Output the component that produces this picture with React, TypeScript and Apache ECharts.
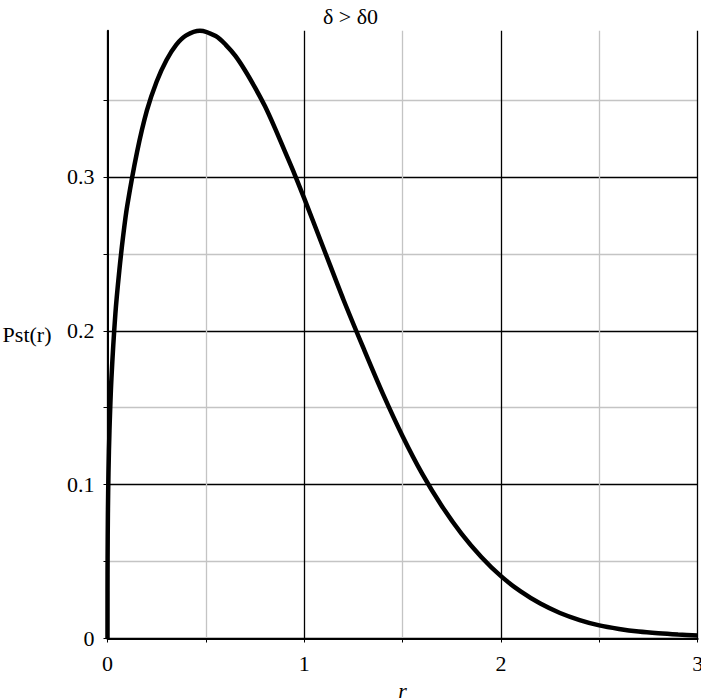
import React, { useEffect, useRef } from "react";
import * as echarts from "echarts";

const titleText = "δ > δ0";
const xName = "r";
const yName = "Pst(r)";

const rValues = [
  0, 0.0001, 0.0005, 0.002, 0.005, 0.01, 0.02, 0.04, 0.06, 0.08, 0.1, 0.15,
  0.2, 0.25, 0.3, 0.35, 0.4, 0.47, 0.55, 0.6, 0.65, 0.7, 0.75, 0.8, 0.85, 0.9,
  0.95, 1.0, 1.1, 1.2, 1.3, 1.4, 1.5, 1.6, 1.7, 1.8, 1.9, 2.0, 2.1, 2.2, 2.3,
  2.4, 2.5, 2.6, 2.7, 2.8, 2.9, 3.0,
];
const pstValues = [
  0, 0.031, 0.052, 0.081, 0.108, 0.135, 0.169, 0.211, 0.239, 0.262, 0.281,
  0.316, 0.343, 0.362, 0.376, 0.386, 0.392, 0.395, 0.3915, 0.386, 0.3786,
  0.369, 0.358, 0.346, 0.332, 0.317, 0.302, 0.286, 0.253, 0.22, 0.189, 0.159,
  0.1315, 0.107, 0.086, 0.068, 0.053, 0.0405, 0.0306, 0.0227, 0.0166, 0.012,
  0.0085, 0.0062, 0.0045, 0.0034, 0.0026, 0.002,
];

const xMin = 0;
const xMax = 3;
const xStep = 0.5;
const yMin = 0;
const yMax = 0.395;
const yStep = 0.05;

const FONT = "Liberation Serif";
const FS = 22;

export default function App() {
  const ref = useRef<HTMLDivElement>(null);
  useEffect(() => {
    if (!ref.current) return;
    const chart = echarts.init(ref.current, undefined, { renderer: "svg" });
    const data = rValues.map((r, i) => [r, pstValues[i]]);
    const isMult = (v: number, step: number) =>
      Math.abs(v / step - Math.round(v / step)) < 1e-6;
    chart.setOption({
      animation: false,
      backgroundColor: "#ffffff",
      title: {
        text: titleText,
        left: "center",
        top: 0,
        textStyle: {
          fontFamily: FONT,
          fontSize: FS,
          fontWeight: "normal",
          color: "#000",
        },
      },
      grid: {
        left: 107.5,
        right: 3.3,
        top: 30.7,
        bottom: 61.5,
        containLabel: false,
        outerBoundsMode: "none",
      },
      xAxis: {
        type: "value",
        min: xMin,
        max: xMax,
        interval: xStep,
        name: xName,
        nameLocation: "middle",
        nameGap: 35,
        nameTextStyle: { fontFamily: FONT, fontSize: FS, fontStyle: "italic", color: "#000" },
        axisLine: { show: true, onZero: false, lineStyle: { color: "#000", width: 2 } },
        axisTick: { show: true, length: 4, lineStyle: { color: "#000", width: 1 } },
        axisLabel: {
          margin: 14,
          fontFamily: FONT,
          fontSize: FS,
          color: "#000",
          formatter: (v: number) => (isMult(v, 1) ? String(Math.round(v)) : ""),
        },
        splitLine: {
          show: true,
          lineStyle: { color: ["#000000", "#c4c4c4"], width: 1.3 },
        },
      },
      yAxis: {
        type: "value",
        min: yMin,
        max: yMax,
        interval: yStep,
        name: yName,
        nameLocation: "middle",
        nameRotate: 0,
        nameGap: 56,
        nameTextStyle: { fontFamily: FONT, fontSize: FS, color: "#000" },
        axisLine: { show: true, onZero: false, lineStyle: { color: "#000", width: 2 } },
        axisTick: { show: true, length: 4, lineStyle: { color: "#000", width: 1 } },
        axisLabel: {
          margin: 13,
          fontFamily: FONT,
          fontSize: FS,
          color: "#000",
          showMaxLabel: false,
          formatter: (v: number) =>
            isMult(v, 0.1) && v <= 0.3 + 1e-9 ? (v === 0 ? "0" : v.toFixed(1)) : "",
        },
        splitLine: {
          show: true,
          showMaxLine: false,
          lineStyle: { color: ["#000000", "#c4c4c4"], width: 1.3 },
        },
      },
      series: [
        {
          type: "line",
          data,
          showSymbol: false,
          smooth: 0.3,
          clip: false,
          lineStyle: { color: "#000", width: 4.5 },
          z: 5,
        },
      ],
    });
    return () => chart.dispose();
  }, []);
  return (
    <div
      ref={ref}
      style={{ position: "absolute", left: 0, top: 0, width: 701, height: 700 }}
    />
  );
}
